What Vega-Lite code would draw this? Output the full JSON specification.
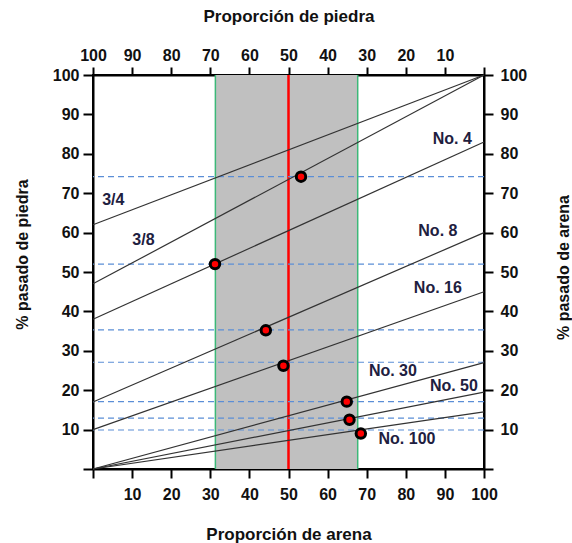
{
  "$schema": "https://vega.github.io/schema/vega-lite/v6.json",
  "width": 391,
  "height": 394,
  "autosize": "none",
  "padding": {"left": 93, "top": 75, "right": 88, "bottom": 74},
  "background": "white",
  "config": {
    "font": "Liberation Sans",
    "view": {"stroke": "black", "strokeWidth": 2},
    "axis": {
      "grid": false,
      "domainColor": "black",
      "domainWidth": 2,
      "tickColor": "black",
      "tickWidth": 2,
      "labelFont": "Liberation Sans",
      "labelFontSize": 16,
      "labelFontWeight": "bold",
      "labelColor": "#111111",
      "titleFont": "Liberation Sans",
      "titleFontSize": 17,
      "titleFontWeight": "bold",
      "titleColor": "#111111"
    }
  },
  "datasets": {
    "band": [{"x1": 31.3, "x2": 67.7, "y1": 0, "y2": 100}],
    "green": [{"x": 31.3}, {"x": 67.7}],
    "red": [{"x": 50}],
    "hl": [{"y": 74.2}, {"y": 52}, {"y": 35.3}, {"y": 27.1}, {"y": 17.1}, {"y": 12.9}, {"y": 9.9}],
    "lines": [
      {"name": "3/4", "x": 0, "y": 62}, {"name": "3/4", "x": 100, "y": 100},
      {"name": "3/8", "x": 0, "y": 47}, {"name": "3/8", "x": 100, "y": 100},
      {"name": "No. 4", "x": 0, "y": 38}, {"name": "No. 4", "x": 100, "y": 83},
      {"name": "No. 8", "x": 0, "y": 17}, {"name": "No. 8", "x": 100, "y": 60},
      {"name": "No. 16", "x": 0, "y": 10}, {"name": "No. 16", "x": 100, "y": 45},
      {"name": "No. 30", "x": 0, "y": 0}, {"name": "No. 30", "x": 100, "y": 27},
      {"name": "No. 50", "x": 0, "y": 0}, {"name": "No. 50", "x": 100, "y": 19.5},
      {"name": "No. 100", "x": 0, "y": 0}, {"name": "No. 100", "x": 100, "y": 14.5}
    ],
    "points": [
      {"x": 53.2, "y": 74.2}, {"x": 31.2, "y": 52}, {"x": 44.2, "y": 35.2},
      {"x": 48.7, "y": 26.2}, {"x": 64.9, "y": 17.1}, {"x": 65.6, "y": 12.5}, {"x": 68.5, "y": 9.0}
    ],
    "labels": [
      {"text": "3/4", "x": 5.2, "y": 68.2},
      {"text": "3/8", "x": 12.9, "y": 58.1},
      {"text": "No. 4", "x": 91.9, "y": 83.8},
      {"text": "No. 8", "x": 88.2, "y": 60.4},
      {"text": "No. 16", "x": 88.2, "y": 46.0},
      {"text": "No. 30", "x": 76.7, "y": 24.8},
      {"text": "No. 50", "x": 92.3, "y": 21.0},
      {"text": "No. 100", "x": 80.3, "y": 7.7}
    ]
  },
  "resolve": {"axis": {"x": "independent", "y": "independent"}},
  "layer": [
    {
      "data": {"name": "band"},
      "mark": {"type": "rect", "fill": "#c0c0c0"},
      "encoding": {
        "x": {"field": "x1", "type": "quantitative", "scale": {"domain": [0, 100], "nice": false},
          "axis": {"orient": "bottom", "title": "Proporción de arena", "values": [0, 10, 20, 30, 40, 50, 60, 70, 80, 90, 100],
            "labelExpr": "datum.value == 0 ? '' : datum.label", "tickSize": 9, "labelPadding": 8, "titlePadding": 24, "labelFlush": false}},
        "x2": {"field": "x2"},
        "y": {"field": "y1", "type": "quantitative", "scale": {"domain": [0, 100], "nice": false},
          "axis": {"orient": "left", "title": "% pasado de piedra", "values": [0, 10, 20, 30, 40, 50, 60, 70, 80, 90, 100],
            "labelExpr": "datum.value == 0 ? '' : datum.label", "tickSize": 10, "labelPadding": 4, "titlePadding": 22, "titleFontSize": 16, "titleY": 179, "labelFlush": false}},
        "y2": {"field": "y2"}
      }
    },
    {
      "data": {"name": "green"},
      "mark": {"type": "rule", "color": "#3cb878", "strokeWidth": 1.5},
      "encoding": {"x": {"field": "x", "type": "quantitative", "axis": null}}
    },
    {
      "data": {"name": "red"},
      "mark": {"type": "rule", "color": "#ff0000", "strokeWidth": 2.5},
      "encoding": {"x": {"field": "x", "type": "quantitative", "axis": null}}
    },
    {
      "data": {"name": "hl"},
      "mark": {"type": "rule", "color": "#5b8ed6", "strokeWidth": 1.2, "strokeDash": [6, 4]},
      "encoding": {"y": {"field": "y", "type": "quantitative", "axis": null}}
    },
    {
      "data": {"name": "lines"},
      "mark": {"type": "line", "color": "#333333", "strokeWidth": 1.2},
      "encoding": {
        "x": {"field": "x", "type": "quantitative", "scale": {"domain": [0, 100], "nice": false},
          "axis": {"orient": "top", "title": "Proporción de piedra", "values": [0, 10, 20, 30, 40, 50, 60, 70, 80, 90, 100],
            "labelExpr": "datum.value == 100 ? '' : format(100 - datum.value, 'd')", "tickSize": 8, "labelPadding": 4, "titlePadding": 22, "labelFlush": false}},
        "y": {"field": "y", "type": "quantitative", "scale": {"domain": [0, 100], "nice": false},
          "axis": {"orient": "right", "title": "% pasado de arena", "values": [0, 10, 20, 30, 40, 50, 60, 70, 80, 90, 100],
            "labelExpr": "datum.value == 0 ? '' : datum.label", "tickSize": 9, "labelPadding": 7, "titlePadding": 45, "titleAngle": 270, "titleFontSize": 16, "titleY": 192, "labelFlush": false}},
        "detail": {"field": "name"}
      }
    },
    {
      "data": {"name": "points"},
      "mark": {"type": "circle", "fill": "#ff0000", "stroke": "black", "strokeWidth": 3, "size": 90, "opacity": 1},
      "encoding": {
        "x": {"field": "x", "type": "quantitative", "axis": null},
        "y": {"field": "y", "type": "quantitative", "axis": null}
      }
    },
    {
      "data": {"name": "labels"},
      "mark": {"type": "text", "fontSize": 16, "fontWeight": "bold", "color": "#1e2040", "align": "center", "baseline": "middle"},
      "encoding": {
        "x": {"field": "x", "type": "quantitative", "axis": null},
        "y": {"field": "y", "type": "quantitative", "axis": null},
        "text": {"field": "text"}
      }
    }
  ]
}
